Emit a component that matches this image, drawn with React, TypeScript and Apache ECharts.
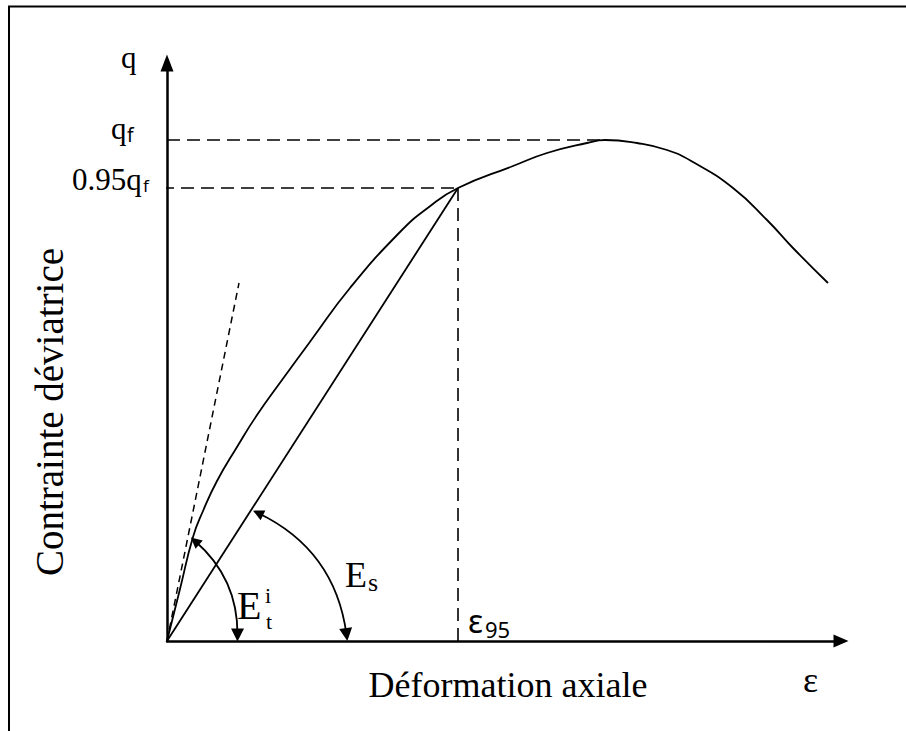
import { useEffect, useRef } from "react";
import * as echarts from "echarts";

// Stress–strain curve (arbitrary units)
const strain = [0, 13, 26, 36, 50, 70, 90, 115, 145, 183, 233, 262, 291, 346, 380, 420, 438, 470, 500, 526, 566, 600, 626, 661];
const stress = [0, 52, 104, 130, 160, 194, 226, 261, 302, 353, 409, 434, 453, 475, 488, 498, 501, 498, 491, 479, 453, 421, 393, 358];

const qf = 501; // peak deviatoric stress
const epsPeak = 438;
const q95 = 453; // 0.95 qf
const eps95 = 291;
const tangentEnd = [72, 358]; // initial tangent direction
const xMax = 674;
const yMax = 578;

// Angle arcs (from point on line, to point on strain axis)
const etArc = [[28, 100], [70.5, 6]];
const esArc = [[91, 128], [179.5, 6.5]];

const SERIF = '"Liberation Serif", "Times New Roman", serif';
const SANS = '"Noto Sans", sans-serif';
const K_SERIF = 0.3375;
const K_SANS = 0.388;

function txt(text: string, x: number, baseline: number, size: number, family: string, align = "left") {
  const k = family === SERIF ? K_SERIF : K_SANS;
  return {
    type: "text",
    x,
    y: baseline - k * size,
    silent: true,
    style: {
      text,
      fontSize: size,
      fontFamily: family,
      fill: "#000",
      textAlign: align,
      textVerticalAlign: "middle",
    },
  };
}

export default function App() {
  const ref = useRef<HTMLDivElement>(null);
  useEffect(() => {
    const chart = echarts.init(ref.current!, null, { renderer: "svg" });
    const black = "#000";
    const axisCommon = {
      type: "value",
      min: 0,
      axisTick: { show: false },
      axisLabel: { show: false },
      splitLine: { show: false },
    };
    chart.setOption({
      animation: false,
      backgroundColor: "#fff",
      grid: { left: 167, right: 906 - 167 - xMax, top: 641 - yMax, bottom: 90, outerBoundsMode: "none" },
      xAxis: {
        ...axisCommon,
        max: xMax,
        axisLine: { show: true, onZero: false, symbol: ["none", "triangle"], symbolSize: [13, 15], lineStyle: { color: black, width: 2.5 } },
      },
      yAxis: {
        ...axisCommon,
        max: yMax,
        axisLine: { show: true, onZero: false, symbol: ["none", "triangle"], symbolSize: [13, 17], lineStyle: { color: black, width: 2.5 } },
      },
      series: [
        {
          type: "line",
          data: strain.map((e, i) => [e, stress[i]]),
          showSymbol: false,
          smooth: 0.5,
          clip: false,
          lineStyle: { color: black, width: 1.8 },
          silent: true,
        },
        {
          type: "line",
          data: [[0, 0], tangentEnd],
          showSymbol: false,
          clip: false,
          lineStyle: { color: black, width: 1.5, type: [7, 5] },
          silent: true,
        },
        {
          type: "line",
          data: [[0, 0], [eps95, q95]],
          showSymbol: false,
          clip: false,
          lineStyle: { color: black, width: 1.8 },
          silent: true,
        },
        {
          type: "line",
          data: [[0, qf], [epsPeak, qf]],
          showSymbol: false,
          clip: false,
          lineStyle: { color: black, width: 1.6, type: [13, 7] },
          silent: true,
        },
        {
          type: "line",
          data: [[-6, q95], [eps95, q95]],
          showSymbol: false,
          clip: false,
          lineStyle: { color: black, width: 1.6, type: [13, 7] },
          silent: true,
        },
        {
          type: "line",
          data: [[eps95, q95], [eps95, 0]],
          showSymbol: false,
          clip: false,
          lineStyle: { color: black, width: 1.6, type: [13, 7] },
          silent: true,
        },
        {
          type: "lines",
          coordinateSystem: "cartesian2d",
          symbol: ["triangle", "triangle"],
          symbolSize: [11, 13],
          itemStyle: { color: black },
          lineStyle: { color: black, width: 1.8, curveness: 0.23, opacity: 1 },
          data: [{ coords: etArc }],
          silent: true,
        },
        {
          type: "lines",
          coordinateSystem: "cartesian2d",
          symbol: ["triangle", "triangle"],
          symbolSize: [11, 13],
          itemStyle: { color: black },
          lineStyle: { color: black, width: 1.8, curveness: 0.27, opacity: 1 },
          data: [{ coords: esArc }],
          silent: true,
        },
      ],
    });

    const px = (x: number, y: number) => chart.convertToPixel({ gridIndex: 0 }, [x, y]) as number[];
    const top = px(0, yMax);
    const qfY = px(0, qf)[1];
    const q95Y = px(0, q95)[1];
    const e95X = px(eps95, 0)[0];
    const o = px(0, 0);

    chart.setOption({
      graphic: [
        {
          type: "rect",
          shape: { x: 9, y: 6.5, width: 1400, height: 1400 },
          style: { fill: "none", stroke: black, lineWidth: 2 },
          silent: true,
        },
        txt("q", 121, top[1] + 5, 31, SERIF),
        txt("q", 111, qfY - 1, 31, SERIF),
        txt("f", 127, qfY + 2, 19, SANS),
        txt("0.95q", 72, q95Y + 2, 31, SERIF),
        txt("f", 143, q95Y + 4, 17, SANS),
        txt("\u03b5", e95X + 10, o[1] - 8, 32, SANS),
        txt("95", e95X + 27, o[1] - 3, 22, SANS),
        txt("E", 237, 618.5, 40, SERIF),
        txt("i", 265, 603, 22, SERIF),
        txt("t", 266, 629, 22, SERIF),
        txt("E", 345, 587, 36, SERIF),
        txt("s", 368, 591, 26, SERIF),
        {
          type: "text",
          x: 49,
          y: 412,
          rotation: Math.PI / 2,
          silent: true,
          style: { text: "Contrainte déviatrice", fontSize: 39, fontFamily: SERIF, fill: black, textAlign: "center", textVerticalAlign: "middle" },
        },
        txt("Déformation axiale", 508, 697, 36, SERIF, "center"),
        txt("\u03b5", 803, 692, 36, SERIF),
      ],
    });
    return () => chart.dispose();
  }, []);
  return <div ref={ref} style={{ position: "absolute", left: 0, top: 0, width: 906, height: 731 }} />;
}
